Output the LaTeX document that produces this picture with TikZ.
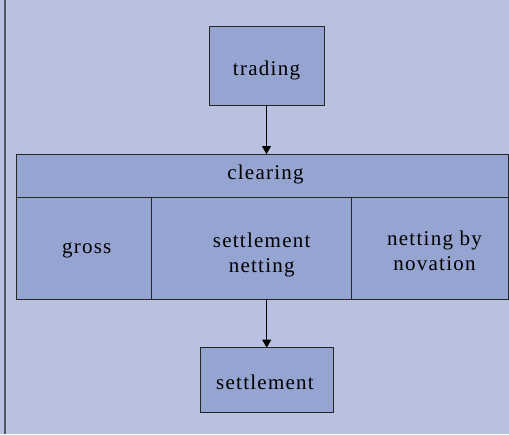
\documentclass[tikz,border=0pt]{standalone}
\usepackage{fontspec}
\setmainfont{Liberation Serif}[LetterSpace=6]
\usetikzlibrary{arrows.meta}
\definecolor{bg}{HTML}{B8C1DF}
\definecolor{boxfill}{HTML}{95A4D0}
\definecolor{rule}{HTML}{55555F}
\begin{document}
\begin{tikzpicture}[x=1pt,y=-1pt,
  cell/.style={draw=black!85,line width=0.9pt,fill=boxfill,inner sep=0pt,outer sep=0pt},
  lbl/.style={font=\fontsize{21}{25.5}\selectfont,align=center,inner sep=0pt,text=black},
  flow/.style={-{Triangle[length=8pt,width=9pt]},line width=0.9pt,draw=black}]

% page background and left rule
\fill[bg] (0,0) rectangle (509,434);
\useasboundingbox (0,0) rectangle (509,434);
\draw[rule,line width=2pt] (4.5,0) -- (4.5,434);

% trading
\node[cell,minimum width=115pt,minimum height=79pt] (trading) at (266.5,65.5) {};
\node[lbl] (tradingtext) at (266.5,70) {trading};

% clearing header
\node[cell,minimum width=491.8pt,minimum height=43.3pt] (clearing) at (262.6,175.7) {};
\node[lbl] (clearingtext) at (265.5,174) {clearing};

% clearing methods
\node[cell,minimum width=134.3pt,minimum height=102pt] (gross) at (83.85,248.3) {};
\node[cell,minimum width=200.3pt,minimum height=102pt] (netcell) at (251.15,248.3) {};
\node[cell,minimum width=157.2pt,minimum height=102pt] (novcell) at (429.9,248.3) {};
\node[lbl] (grosstext) at (86.7,250) {gross};
\node[lbl] (nettext) at (261.7,255) {settlement\\netting};
\node[lbl] (novtext) at (434.5,251) {netting by\\novation};

% settlement
\node[cell,minimum width=132.7pt,minimum height=64.3pt] (settlement) at (266.7,379.8) {};
\node[lbl] (settletext) at (265,382.5) {settlement};

% flow arrows
\draw[flow] (trading.south) -- (trading.south |- clearing.north);
\draw[flow] (settlement.north |- netcell.south) -- (settlement.north);
\end{tikzpicture}
\end{document}
